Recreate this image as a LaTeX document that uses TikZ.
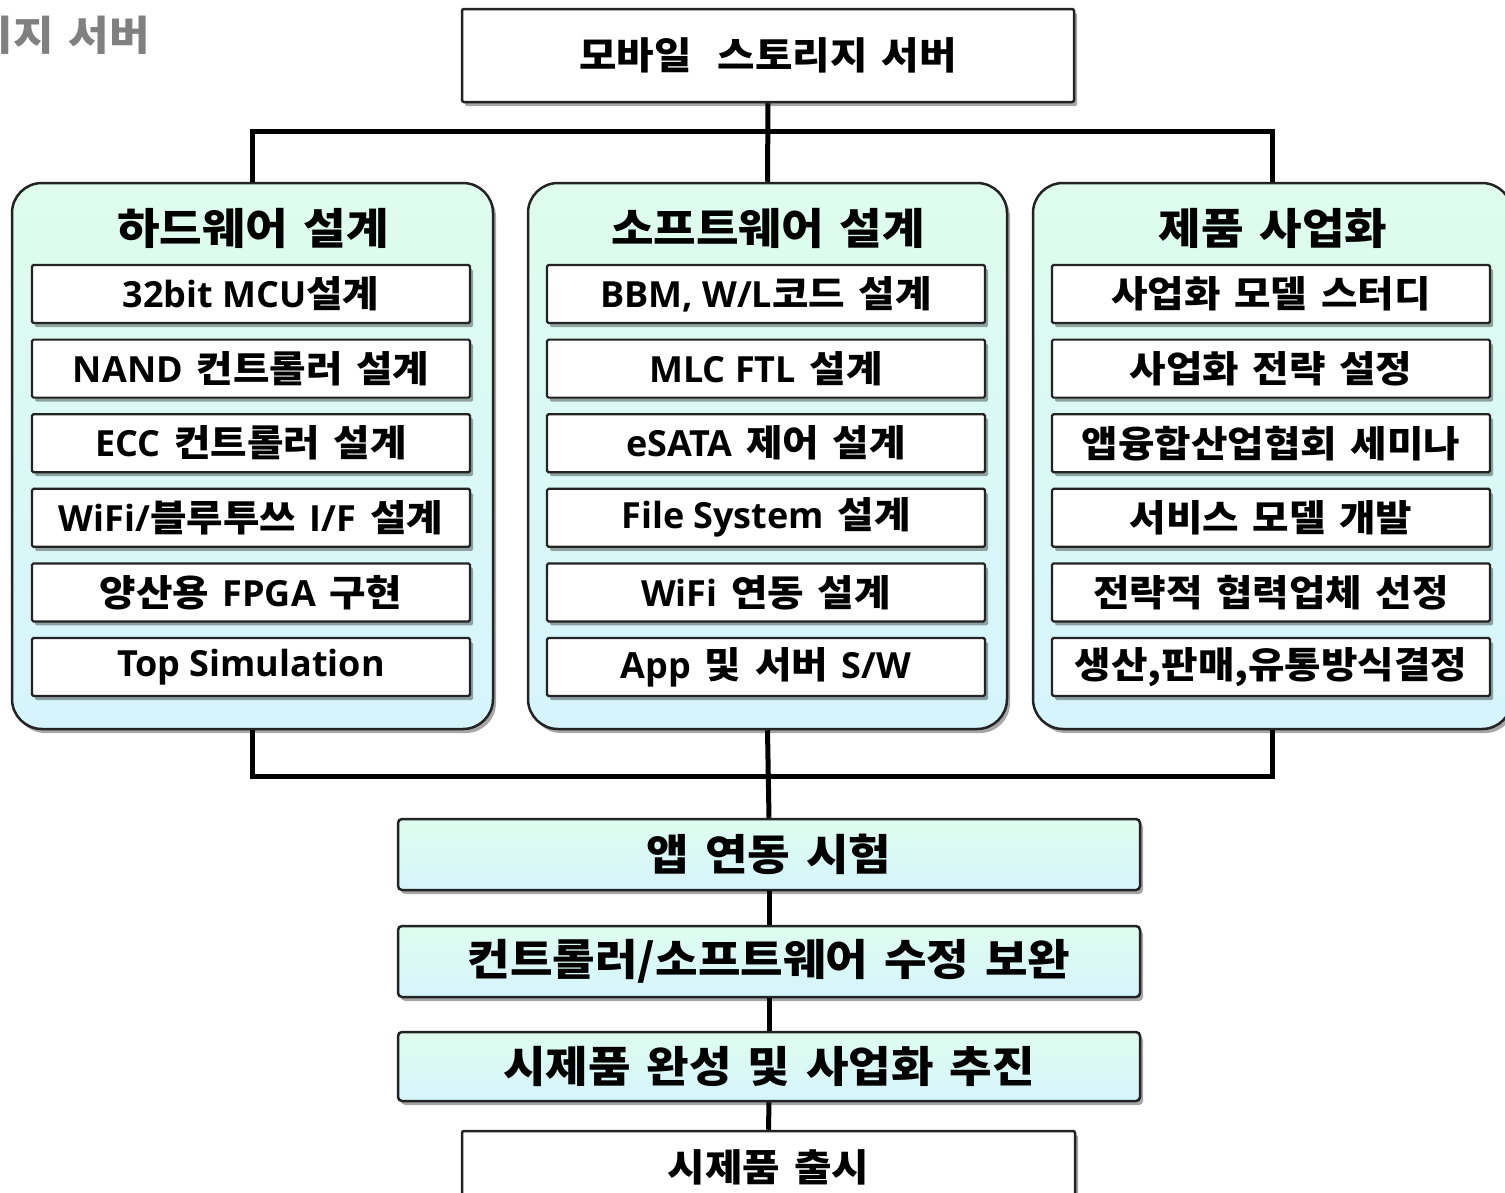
\documentclass[tikz,border=0pt]{standalone}
\usepackage{fontspec}
\setmainfont{Noto Sans CJK KR}[FakeStretch=1.08,Scale=1.02,WordSpace=1.5]
\newfontfamily\latf{Open Sans}
\usetikzlibrary{shadows}
\newcommand{\La}[1]{{\latf #1}}
\definecolor{mintT}{RGB}{222,253,238}
\definecolor{cyanB}{RGB}{214,244,252}
\definecolor{edgec}{RGB}{35,35,35}
\definecolor{hdrgray}{RGB}{128,128,128}
\tikzset{
 shad/.style={drop shadow={shadow xshift=3pt,shadow yshift=-4pt,opacity=0.35,fill=black}},
 topbox/.style={draw=edgec,line width=2.5pt,fill=white,rounded corners=2pt,minimum width=612pt,minimum height=93pt,inner sep=0pt,font=\fontsize{37}{40}\selectfont\bfseries,shad},
 groupbox/.style={draw=edgec,line width=2.5pt,top color=mintT,bottom color=cyanB,rounded corners=30pt,minimum width=481pt,minimum height=546pt,inner sep=0pt,shad},
 gtitle/.style={font=\fontsize{42}{46}\selectfont\bfseries,inner sep=0pt},
 itembox/.style={draw=edgec,line width=2.2pt,fill=white,rounded corners=1.5pt,minimum width=438pt,minimum height=58pt,inner sep=0pt,font=\fontsize{36}{40}\selectfont\bfseries,shad},
 greenbox/.style={draw=edgec,line width=2.5pt,top color=mintT,bottom color=cyanB,rounded corners=4pt,minimum width=742pt,minimum height=71pt,inner sep=0pt,font=\fontsize{42}{46}\selectfont\bfseries,shad},
 lastbox/.style={draw=edgec,line width=2.5pt,fill=white,rounded corners=2pt,minimum width=613pt,minimum height=72pt,inner sep=0pt,font=\fontsize{37}{40}\selectfont\bfseries,shad},
 conn/.style={line width=5pt,black},
}
\begin{document}
\begin{tikzpicture}[x=1pt,y=-1pt]
\useasboundingbox (0,0) rectangle (1505,1192);
% header
\node[anchor=east,inner sep=0pt,text=hdrgray,font=\fontsize{40}{44}\selectfont\bfseries] (hdr) at (150,35) {모바일 스토리지 서버};
% top
\node[topbox] (top) at (768,55.5) {모바일\hspace{0.7em}스토리지 서버};
% groups
\node[groupbox] (hw) at (252.5,456) {};
\node[groupbox,minimum width=479pt] (sw) at (767.5,456) {};
\node[groupbox,minimum width=479pt] (biz) at (1272.5,456) {};
\node[gtitle] (hwt) at (253,228) {하드웨어 설계};
\node[gtitle] (swt) at (768,228) {소프트웨어 설계};
\node[gtitle] (bizt) at (1273,228) {제품 사업화};
% items
\foreach \t [count=\i] in {{\La{32bit MCU}설계},{\La{NAND} 컨트롤러 설계},{\La{ECC} 컨트롤러 설계},{\La{WiFi/}블루투쓰 \La{I/F} 설계},{양산용 \La{FPGA} 구현},{\La{Top Simulation}}}
  \node[itembox] (h\i) at (251,{294+74.6*(\i-1)}) {\t};
\foreach \t [count=\i] in {{\La{BBM, W/L}코드 설계},{\La{MLC FTL} 설계},{\La{eSATA} 제어 설계},{\La{File System} 설계},{\La{WiFi} 연동 설계},{\La{App} 및 서버 \La{S/W}}}
  \node[itembox] (s\i) at (766,{294+74.6*(\i-1)}) {\t};
\foreach \t [count=\i] in {{사업화 모델 스터디},{사업화 전략 설정},{앱융합산업협회 세미나},{서비스 모델 개발},{전략적 협력업체 선정},{생산,판매,유통방식결정}}
  \node[itembox] (b\i) at (1271,{294+74.6*(\i-1)}) {\t};
% bottom chain
\node[greenbox] (g1) at (769,854.5) {앱 연동 시험};
\node[greenbox] (g2) at (769,961.5) {컨트롤러/소프트웨어 수정 보완};
\node[greenbox,minimum height=69pt] (g3) at (769,1066.5) {시제품 완성 및 사업화 추진};
\node[lastbox] (last) at (768.5,1167) {시제품 출시};
% connectors
\draw[conn] (top.south) -- (sw.north);
\draw[conn] (hw.north) -- ++(0,-50) -| (biz.north);
\draw[conn] (hw.south) -- ++(0,46) -| (biz.south);
\draw[conn] (sw.south) -- (g1.north);
\draw[conn] (g1.south) -- (g2.north);
\draw[conn] (g2.south) -- (g3.north);
\draw[conn] (g3.south) -- (last.north);
\end{tikzpicture}
\end{document}
